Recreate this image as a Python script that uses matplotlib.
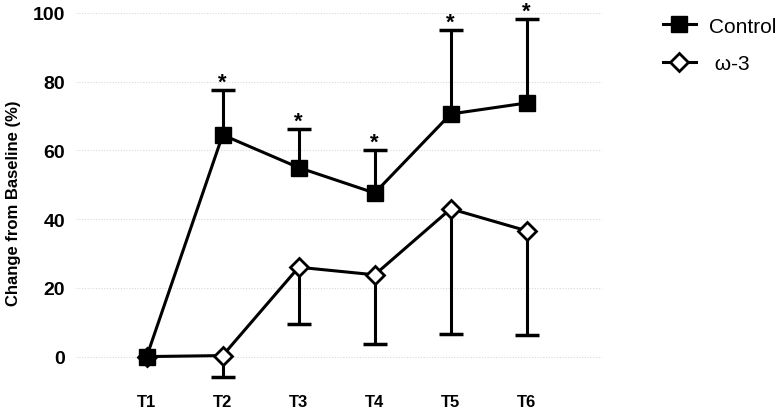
import numpy as np
import matplotlib
matplotlib.use('Agg')
import matplotlib.pyplot as plt

plt.rcParams['font.family'] = ['Liberation Sans', 'DejaVu Sans']

# Data
timepoints = ['T1', 'T2', 'T3', 'T4', 'T5', 'T6']
control_mean = [0, 64.5, 55, 47.6, 70.6, 73.8]
control_err_up = [0, 13.2, 11.2, 12.6, 24.4, 24.4]
omega_mean = [0, 0.3, 26.0, 23.8, 43.0, 36.6]
omega_err_down = [0, 6.3, 16.5, 20.1, 36.4, 30.3]
signif = [False, True, True, True, True, True]

x = np.arange(len(timepoints))
control_top = np.array(control_mean) + np.array(control_err_up)
omega_bot = np.array(omega_mean) - np.array(omega_err_down)

fig = plt.figure(figsize=(7.78, 4.10), dpi=100)
ax = fig.add_axes([0.0977, 0.044, 0.676, 0.922])

# gridlines
for yv in range(0, 101, 20):
    ax.axhline(yv, color='#d9d9d9', lw=0.8, ls=(0, (1, 1.5)), zorder=0)

# one-sided error bars (skip points without error)
has_o = np.array(omega_err_down) > 0
ax.vlines(x[has_o], omega_bot[has_o], np.array(omega_mean)[has_o], color='black', lw=2.2, zorder=2)
ax.plot(x[has_o], omega_bot[has_o], ls='none', marker='_', markersize=17,
        markeredgewidth=2.5, color='black', zorder=2)

has_c = np.array(control_err_up) > 0
ax.vlines(x[has_c], np.array(control_mean)[has_c], control_top[has_c], color='black', lw=2.2, zorder=4)
ax.plot(x[has_c], control_top[has_c], ls='none', marker='_', markersize=17,
        markeredgewidth=2.5, color='black', zorder=4)

# omega-3 (open diamonds)
ax.plot(x, omega_mean, color='black', lw=2.2, marker='D', markersize=9,
        markerfacecolor='white', markeredgecolor='black', markeredgewidth=2,
        label=' ω-3', zorder=3)

# control (filled squares)
ax.plot(x, control_mean, color='black', lw=2.2, marker='s', markersize=11.5,
        markerfacecolor='black', markeredgecolor='black', label='Control', zorder=5)

for xi, top, s in zip(x, control_top, signif):
    if s:
        ax.annotate('*', (xi, top), xytext=(0, 5.5), textcoords='offset points',
                    ha='center', va='center', fontsize=16, fontweight='bold',
                    annotation_clip=False)

ax.set_xlim(-0.93, 5.99)
ax.set_ylim(-10, 100)
ax.set_xticks(x)
ax.set_xticklabels(timepoints, fontsize=12, fontweight='bold')
ax.set_yticks(range(0, 101, 20))
ax.set_yticklabels([str(v) for v in range(0, 101, 20)], fontsize=14, fontweight='bold')
ax.tick_params(axis='both', length=0)
ax.tick_params(axis='x', pad=2)
ax.tick_params(axis='y', pad=8)
for sp in ax.spines.values():
    sp.set_visible(False)
ax.set_ylabel('Change from Baseline (%)', fontsize=12, fontweight='bold', labelpad=8)

handles, labels = ax.get_legend_handles_labels()
ax.legend(handles[::-1], labels[::-1], loc='upper left', bbox_to_anchor=(1.08, 1.04),
          frameon=False, fontsize=15, handlelength=1.6, handletextpad=0.6, labelspacing=0.9)

fig.savefig('out.png', dpi=100)
